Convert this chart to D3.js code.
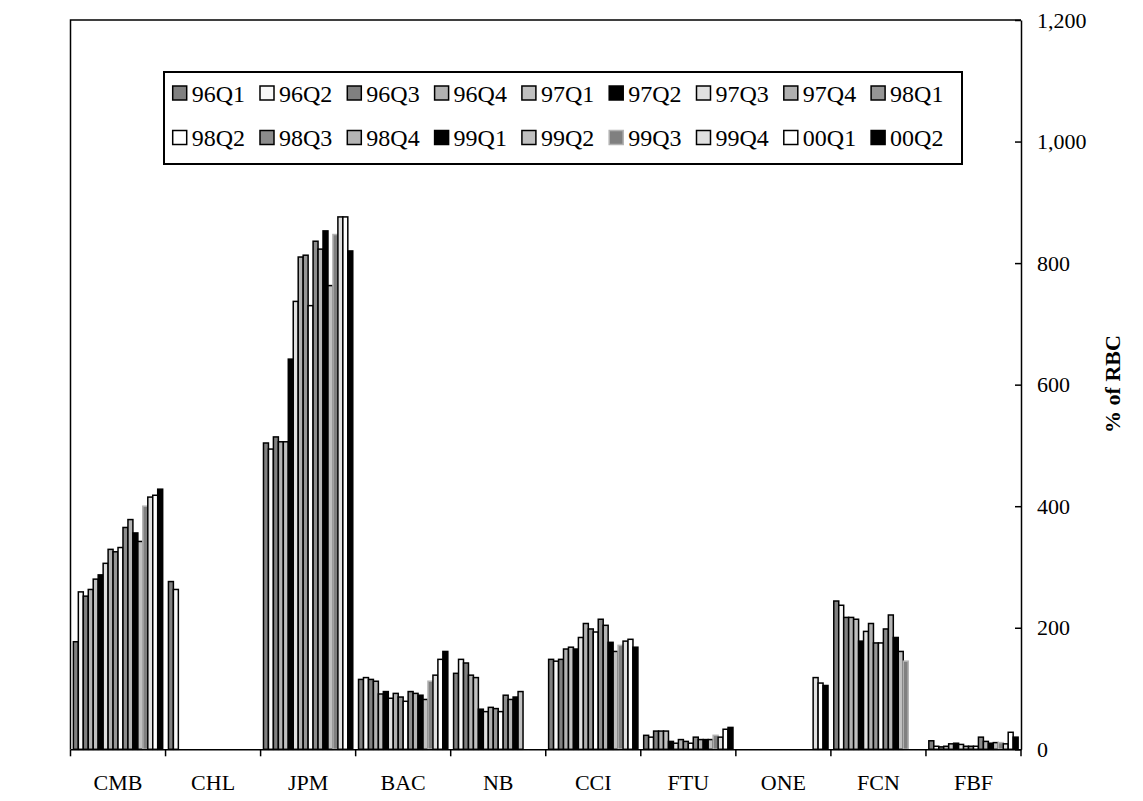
<!DOCTYPE html>
<html lang="en">
<head>
    <meta charset="UTF-8">
    <title>% of RBC by bank and quarter</title>
    <script src="https://d3js.org/d3.v7.min.js"></script>
    <style>
        body { margin: 0; background: #fff; }
        text { font-family: "Liberation Serif", "Times New Roman", serif; fill: #000; }
    </style>
</head>
<body>
    <svg width="1143" height="801"></svg>
    <script>
        // banks along the x axis
        const banks = ['CMB', 'CHL', 'JPM', 'BAC', 'NB', 'CCI', 'FTU', 'ONE', 'FCN', 'FBF'];

        // one bar per quarter inside every bank
        const quarters = ['96Q1', '96Q2', '96Q3', '96Q4', '97Q1', '97Q2', '97Q3', '97Q4', '98Q1',
                          '98Q2', '98Q3', '98Q4', '99Q1', '99Q2', '99Q3', '99Q4', '00Q1', '00Q2'];

        // fill of each quarter
        const fills = ['#808080', '#f8f8f8', '#808080', '#b2b2b2', '#c0c0c0', '#000000', '#e0e0e0', '#b0b0b0', '#969696',
                       '#ffffff', '#8c8c8c', '#b4b4b4', '#000000', '#c0c0c0', '#808080', '#e0e0e0', '#ffffff', '#000000'];
        const borders = quarters.map(q => q === '99Q3' ? '#b2b2b2' : '#000');

        // % of RBC, one value per quarter (null = no bar)
        const cmb = [177, 259, 252, 263, 280, 287, 306, 329, 325, 332, 365, 378, 356, 342, 400, 415, 418, 428];
        const chl = [276, 263, null, null, null, null, null, null, null, null, null, null, null, null, null, null, null, null];
        const jpm = [504, 494, 514, 506, 506, 642, 737, 810, 813, 730, 836, 823, 853, 763, 847, 876, 876, 820];
        const bac = [115, 118, 115, 112, 91, 95, 84, 92, 86, 79, 95, 92, 89, 82, 112, 122, 148, 161];
        const nb  = [125, 148, 142, 122, 118, 66, 62, 69, 67, 62, 89, 82, 86, 95, null, null, null, null];
        const cci = [148, 145, 148, 165, 168, 165, 184, 207, 198, 193, 214, 204, 176, 161, 171, 178, 181, 168];
        const ftu = [23, 20, 30, 30, 30, 13, 10, 16, 13, 10, 20, 16, 16, 16, 23, 20, 33, 36];
        const one = [null, null, null, null, null, null, null, null, null, null, null, null, null, null, null, 118, 109, 105];
        const fcn = [244, 237, 217, 217, 214, 178, 194, 207, 175, 175, 198, 221, 184, 161, 145, null, null, null];
        const fbf = [14, 5, 4, 5, 9, 10, 8, 5, 5, 5, 20, 13, 10, 11, 11, 9, 28, 20];
        const values = [cmb, chl, jpm, bac, nb, cci, ftu, one, fcn, fbf];

        const yTicks = [0, 200, 400, 600, 800, 1000, 1200];

        const svg = d3.select('svg');
        const plotLeft = 70.5, plotRight = 1021, plotTop = 20, plotBottom = 749.3;

        const x0 = d3.scaleBand().domain(banks).range([plotLeft, plotRight]);
        const x1 = d3.scaleBand().domain(quarters).range([0, x0.bandwidth()]).paddingOuter(0.58);
        const y = d3.scaleLinear().domain([0, 1200]).range([plotBottom, plotTop]);

        // flatten into one row per bar
        const bars = [];
        banks.forEach((b, i) => {
            values[i].forEach((v, j) => {
                if (v != null) bars.push({bank: b, q: quarters[j], v: v, j: j});
            });
        });

        svg.append('g').selectAll('rect')
            .data(bars)
            .join('rect')
            .attr('x', d => x0(d.bank) + x1(d.q))
            .attr('y', d => y(d.v))
            .attr('width', x1.bandwidth())
            .attr('height', d => y(0) - y(d.v))
            .attr('fill', d => fills[d.j])
            .attr('stroke', d => borders[d.j])
            .attr('stroke-width', 1.5);

        // frame: top and left lines
        svg.append('path')
            .attr('d', `M${plotLeft},${plotBottom}V${plotTop}H${plotRight}`)
            .attr('fill', 'none')
            .attr('stroke', '#000')
            .attr('stroke-width', 1.5);

        // x axis: labels at group centres, ticks at group edges
        const xAxis = svg.append('g')
            .attr('transform', `translate(0,${plotBottom})`)
            .call(d3.axisBottom(x0).tickSize(0).tickPadding(25));
        xAxis.select('.domain').attr('stroke', '#000').attr('stroke-width', 1.5);
        xAxis.selectAll('text').style('font-size', '22px');

        const edges = banks.map(b => x0(b)).concat([plotRight]);
        xAxis.selectAll('line.edge')
            .data(edges)
            .join('line')
            .attr('class', 'edge')
            .attr('x1', d => d).attr('x2', d => d)
            .attr('y1', 0).attr('y2', 7)
            .attr('stroke', '#000')
            .attr('stroke-width', 1.5);

        // y axis on the right
        const yAxis = svg.append('g')
            .attr('transform', `translate(${plotRight},0)`)
            .call(d3.axisRight(y)
                .tickValues(yTicks)
                .tickFormat(d3.format(','))
                .tickSizeInner(-6)
                .tickSizeOuter(0)
                .tickPadding(16));
        yAxis.select('.domain').attr('stroke', '#000').attr('stroke-width', 1.5);
        yAxis.selectAll('.tick line').attr('stroke', '#000').attr('stroke-width', 1.5);
        yAxis.selectAll('text').style('font-size', '22px');

        svg.append('text')
            .attr('transform', 'translate(1112,384) rotate(-90)')
            .attr('text-anchor', 'middle')
            .attr('dominant-baseline', 'central')
            .style('font-size', '22px')
            .style('font-weight', 'bold')
            .text('% of RBC');

        // legend, two rows of nine
        const legend = svg.append('g');
        legend.append('rect')
            .attr('x', 164).attr('y', 72)
            .attr('width', 798).attr('height', 92)
            .attr('fill', '#fff')
            .attr('stroke', '#000')
            .attr('stroke-width', 2);

        const items = legend.selectAll('g.item')
            .data(quarters)
            .join('g')
            .attr('class', 'item')
            .attr('transform', (d, i) => `translate(${172.7 + (i % 9) * 87.3},${86 + Math.floor(i / 9) * 44.5})`);
        items.append('rect')
            .attr('width', 14).attr('height', 14)
            .attr('fill', (d, i) => fills[i])
            .attr('stroke', (d, i) => borders[i])
            .attr('stroke-width', 1.5);
        items.append('text')
            .attr('x', 19).attr('y', 15.5)
            .style('font-size', '24px')
            .text(d => d);
    </script>
</body>
</html>
